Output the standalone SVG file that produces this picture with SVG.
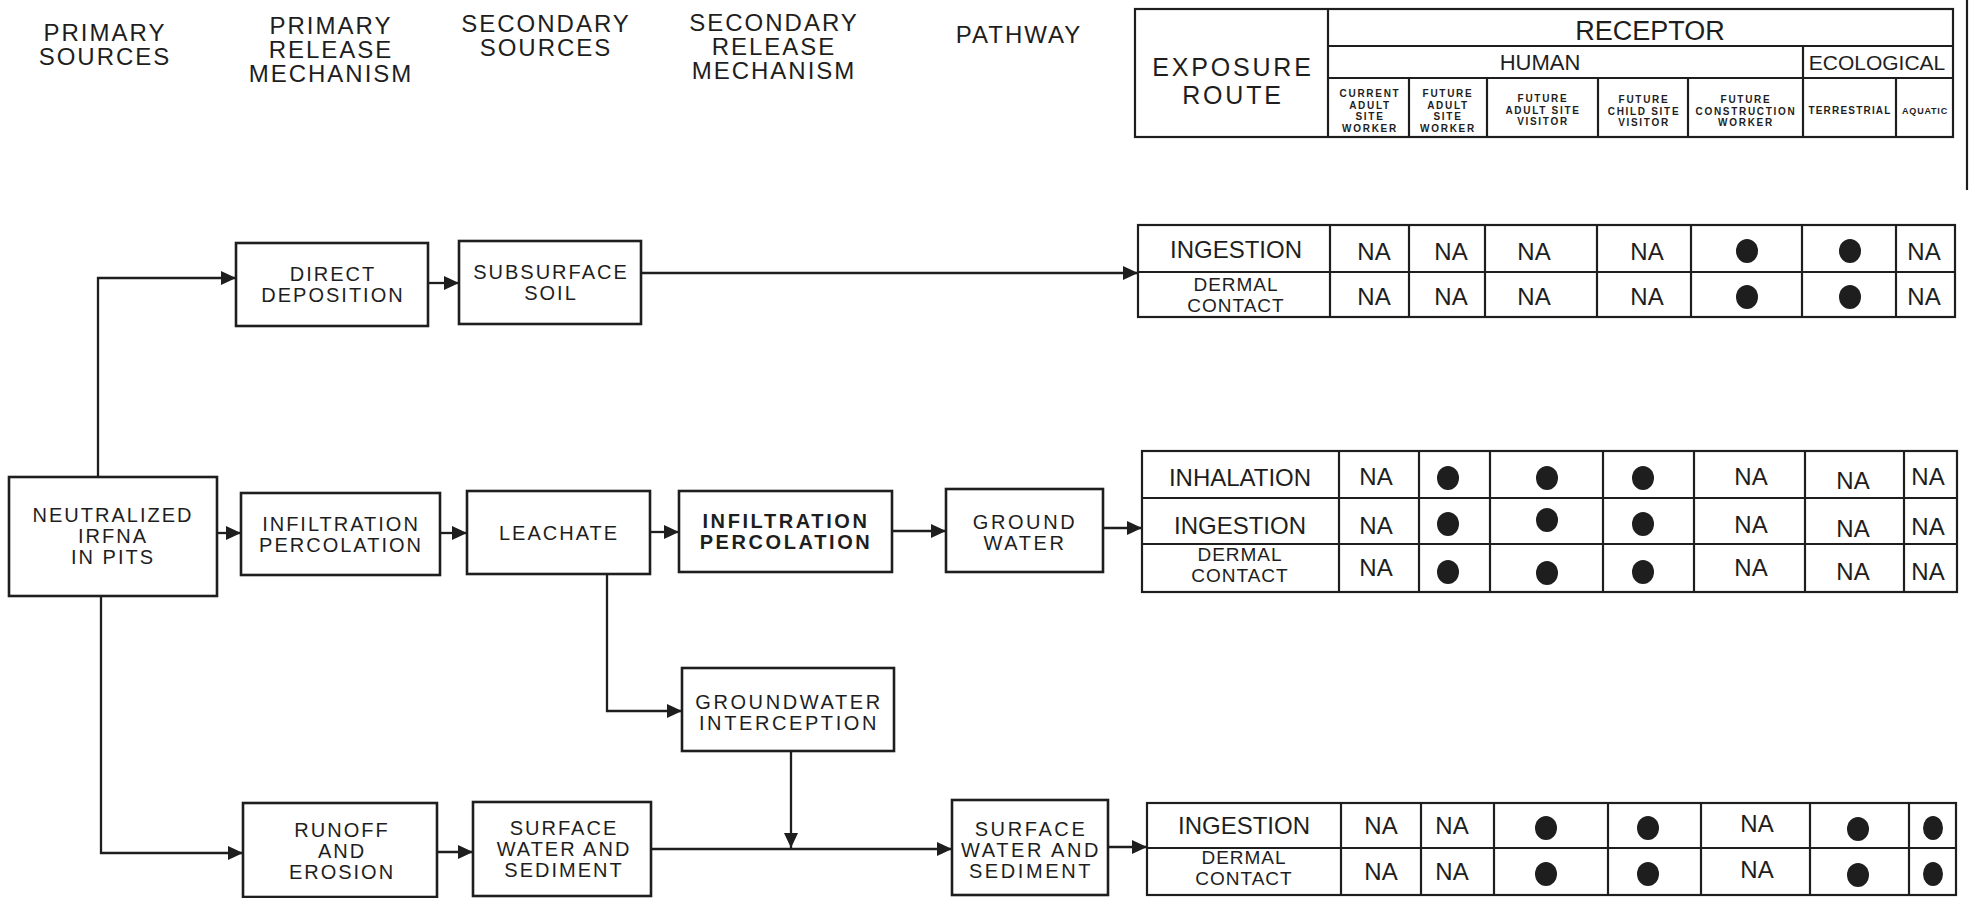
<svg xmlns="http://www.w3.org/2000/svg" width="1971" height="898" viewBox="0 0 1971 898">
<style>
  .bg { fill: #ffffff; }
  .box { fill: #ffffff; stroke: #1e1e1e; stroke-width: 2.6; }
  .grid { fill: none; stroke: #1e1e1e; stroke-width: 2.2; }
  .conn { fill: none; stroke: #1e1e1e; stroke-width: 2.3; }
  .t { font-family: "Liberation Sans", Arial, sans-serif; fill: #1e1e1e; text-anchor: middle; }
  .hd { font-size: 24px; letter-spacing: 2px; }
  .bx { font-size: 20px; letter-spacing: 2px; }
  .bw { font-size: 20px; letter-spacing: 2.6px; }
  .bb { font-size: 20px; font-weight: bold; letter-spacing: 2.6px; }
  .tb { font-size: 24px; }
  .tl { font-size: 19px; letter-spacing: 1px; }
  .sm { font-size: 10px; font-weight: bold; letter-spacing: 1.7px; }
  .dot { fill: #1e1e1e; }
</style>
<defs>
  <marker id="arr" markerUnits="userSpaceOnUse" markerWidth="16" markerHeight="14" refX="15" refY="7" orient="auto">
    <path d="M0,0 L15,7 L0,14 Z" fill="#1e1e1e"/>
  </marker>
</defs>
<rect class="bg" x="0" y="0" width="1971" height="898"/>

<!-- column headings -->
<g id="headings">
  <text class="t hd" x="105" y="41">PRIMARY</text>
  <text class="t hd" x="105" y="65">SOURCES</text>
  <text class="t hd" x="331" y="34">PRIMARY</text>
  <text class="t hd" x="331" y="58">RELEASE</text>
  <text class="t hd" x="331" y="82">MECHANISM</text>
  <text class="t hd" x="546" y="32">SECONDARY</text>
  <text class="t hd" x="546" y="56">SOURCES</text>
  <text class="t hd" x="774" y="31">SECONDARY</text>
  <text class="t hd" x="774" y="55">RELEASE</text>
  <text class="t hd" x="774" y="79">MECHANISM</text>
  <text class="t hd" x="1019" y="43">PATHWAY</text>
</g>

<!-- receptor header table -->
<g id="receptor-header">
  <rect class="grid" x="1135" y="9" width="818" height="128"/>
  <line class="grid" x1="1328" y1="9" x2="1328" y2="137"/>
  <line class="grid" x1="1328" y1="46" x2="1953" y2="46"/>
  <line class="grid" x1="1328" y1="78" x2="1953" y2="78"/>
  <line class="grid" x1="1803" y1="46" x2="1803" y2="137"/>
  <line class="grid" x1="1409" y1="78" x2="1409" y2="137"/>
  <line class="grid" x1="1487" y1="78" x2="1487" y2="137"/>
  <line class="grid" x1="1598" y1="78" x2="1598" y2="137"/>
  <line class="grid" x1="1688" y1="78" x2="1688" y2="137"/>
  <line class="grid" x1="1896" y1="78" x2="1896" y2="137"/>
  <text class="t" style="font-size:25px;letter-spacing:2.8px" x="1233" y="76">EXPOSURE</text>
  <text class="t" style="font-size:25px;letter-spacing:2.8px" x="1233" y="104">ROUTE</text>
  <text class="t" style="font-size:27px" x="1650" y="40">RECEPTOR</text>
  <text class="t" style="font-size:22px" x="1540" y="70">HUMAN</text>
  <text class="t" style="font-size:21px" x="1877" y="70">ECOLOGICAL</text>
  <text class="t sm" x="1370" y="97">CURRENT</text>
  <text class="t sm" x="1370" y="108.5">ADULT</text>
  <text class="t sm" x="1370" y="120">SITE</text>
  <text class="t sm" x="1370" y="131.5">WORKER</text>
  <text class="t sm" x="1448" y="97">FUTURE</text>
  <text class="t sm" x="1448" y="108.5">ADULT</text>
  <text class="t sm" x="1448" y="120">SITE</text>
  <text class="t sm" x="1448" y="131.5">WORKER</text>
  <text class="t sm" x="1543" y="102">FUTURE</text>
  <text class="t sm" x="1543" y="113.5">ADULT SITE</text>
  <text class="t sm" x="1543" y="125">VISITOR</text>
  <text class="t sm" x="1644" y="103">FUTURE</text>
  <text class="t sm" x="1644" y="114.5">CHILD SITE</text>
  <text class="t sm" x="1644" y="126">VISITOR</text>
  <text class="t sm" x="1746" y="103">FUTURE</text>
  <text class="t sm" x="1746" y="114.5">CONSTRUCTION</text>
  <text class="t sm" x="1746" y="126">WORKER</text>
  <text class="t sm" style="letter-spacing:1.2px" x="1850" y="114">TERRESTRIAL</text>
  <text class="t sm" style="font-size:9px;letter-spacing:0.8px" x="1925" y="114">AQUATIC</text>
</g>
<line class="grid" x1="1967" y1="0" x2="1967" y2="190"/>

<!-- connectors -->
<g id="connectors">
  <path class="conn" d="M98,477 V278 H236" marker-end="url(#arr)"/>
  <path class="conn" d="M428,283 H459" marker-end="url(#arr)"/>
  <path class="conn" d="M641,273 H1138" marker-end="url(#arr)"/>
  <path class="conn" d="M217,533 H241" marker-end="url(#arr)"/>
  <path class="conn" d="M440,533 H467" marker-end="url(#arr)"/>
  <path class="conn" d="M650,532 H679" marker-end="url(#arr)"/>
  <path class="conn" d="M892,531 H946" marker-end="url(#arr)"/>
  <path class="conn" d="M1103,528 H1142" marker-end="url(#arr)"/>
  <path class="conn" d="M607,574 V711 H682" marker-end="url(#arr)"/>
  <path class="conn" d="M791,751 V848" marker-end="url(#arr)"/>
  <path class="conn" d="M101,596 V853 H243" marker-end="url(#arr)"/>
  <path class="conn" d="M437,852 H473" marker-end="url(#arr)"/>
  <path class="conn" d="M651,849 H952" marker-end="url(#arr)"/>
  <path class="conn" d="M1108,847 H1147" marker-end="url(#arr)"/>
</g>

<!-- nodes -->
<g id="neutralized-irfna">
  <rect class="box" x="9" y="477" width="208" height="119"/>
  <text class="t bx" x="113" y="522">NEUTRALIZED</text>
  <text class="t bx" x="113" y="543">IRFNA</text>
  <text class="t bx" x="113" y="564">IN PITS</text>
</g>
<g id="direct-deposition">
  <rect class="box" x="236" y="243" width="192" height="83"/>
  <text class="t bx" x="333" y="281">DIRECT</text>
  <text class="t bx" x="333" y="302">DEPOSITION</text>
</g>
<g id="subsurface-soil">
  <rect class="box" x="459" y="241" width="182" height="83"/>
  <text class="t bx" x="551" y="279">SUBSURFACE</text>
  <text class="t bx" x="551" y="300">SOIL</text>
</g>
<g id="infiltration-primary">
  <rect class="box" x="241" y="493" width="199" height="82"/>
  <text class="t bx" x="341" y="531">INFILTRATION</text>
  <text class="t bx" x="341" y="552">PERCOLATION</text>
</g>
<g id="leachate">
  <rect class="box" x="467" y="491" width="183" height="83"/>
  <text class="t bx" x="559" y="540">LEACHATE</text>
</g>
<g id="infiltration-secondary">
  <rect class="box" x="679" y="491" width="213" height="81"/>
  <text class="t bb" x="786" y="528">INFILTRATION</text>
  <text class="t bb" x="786" y="549">PERCOLATION</text>
</g>
<g id="ground-water">
  <rect class="box" x="946" y="489" width="157" height="83"/>
  <text class="t bw" x="1025" y="529">GROUND</text>
  <text class="t bw" x="1025" y="550">WATER</text>
</g>
<g id="groundwater-interception">
  <rect class="box" x="682" y="668" width="212" height="83"/>
  <text class="t bw" x="789" y="709">GROUNDWATER</text>
  <text class="t bw" x="789" y="730">INTERCEPTION</text>
</g>
<g id="runoff-erosion">
  <rect class="box" x="243" y="803" width="194" height="94"/>
  <text class="t bx" x="342" y="837">RUNOFF</text>
  <text class="t bx" x="342" y="858">AND</text>
  <text class="t bx" x="342" y="879">EROSION</text>
</g>
<g id="surface-water-secondary">
  <rect class="box" x="473" y="802" width="178" height="94"/>
  <text class="t bx" x="564" y="835">SURFACE</text>
  <text class="t bx" x="564" y="856">WATER AND</text>
  <text class="t bx" x="564" y="877">SEDIMENT</text>
</g>
<g id="surface-water-pathway">
  <rect class="box" x="952" y="800" width="156" height="95"/>
  <text class="t bw" x="1031" y="836">SURFACE</text>
  <text class="t bw" x="1031" y="857">WATER AND</text>
  <text class="t bw" x="1031" y="878">SEDIMENT</text>
</g>

<!-- exposure table 1 -->
<g id="table-subsurface-soil">
  <rect class="grid" x="1138" y="225" width="817" height="92"/>
  <line class="grid" x1="1138" y1="272" x2="1955" y2="272"/>
  <line class="grid" x1="1330" y1="225" x2="1330" y2="317"/>
  <line class="grid" x1="1409" y1="225" x2="1409" y2="317"/>
  <line class="grid" x1="1485" y1="225" x2="1485" y2="317"/>
  <line class="grid" x1="1597" y1="225" x2="1597" y2="317"/>
  <line class="grid" x1="1691" y1="225" x2="1691" y2="317"/>
  <line class="grid" x1="1802" y1="225" x2="1802" y2="317"/>
  <line class="grid" x1="1896" y1="225" x2="1896" y2="317"/>
  <text class="t tb" x="1236" y="258">INGESTION</text>
  <text class="t tl" x="1236" y="291">DERMAL</text>
  <text class="t tl" x="1236" y="312">CONTACT</text>
  <text class="t tb" x="1374" y="260">NA</text>
  <text class="t tb" x="1451" y="260">NA</text>
  <text class="t tb" x="1534" y="260">NA</text>
  <text class="t tb" x="1647" y="260">NA</text>
  <ellipse class="dot" cx="1747" cy="251" rx="11" ry="12"/>
  <ellipse class="dot" cx="1850" cy="251" rx="11" ry="12"/>
  <text class="t tb" x="1924" y="260">NA</text>
  <text class="t tb" x="1374" y="305">NA</text>
  <text class="t tb" x="1451" y="305">NA</text>
  <text class="t tb" x="1534" y="305">NA</text>
  <text class="t tb" x="1647" y="305">NA</text>
  <ellipse class="dot" cx="1747" cy="297" rx="11" ry="12"/>
  <ellipse class="dot" cx="1850" cy="297" rx="11" ry="12"/>
  <text class="t tb" x="1924" y="305">NA</text>
</g>

<!-- exposure table 2 -->
<g id="table-ground-water">
  <rect class="grid" x="1142" y="451" width="815" height="141"/>
  <line class="grid" x1="1142" y1="498" x2="1957" y2="498"/>
  <line class="grid" x1="1142" y1="544" x2="1957" y2="544"/>
  <line class="grid" x1="1339" y1="451" x2="1339" y2="592"/>
  <line class="grid" x1="1419" y1="451" x2="1419" y2="592"/>
  <line class="grid" x1="1490" y1="451" x2="1490" y2="592"/>
  <line class="grid" x1="1603" y1="451" x2="1603" y2="592"/>
  <line class="grid" x1="1694" y1="451" x2="1694" y2="592"/>
  <line class="grid" x1="1805" y1="451" x2="1805" y2="592"/>
  <line class="grid" x1="1904" y1="451" x2="1904" y2="592"/>
  <text class="t tb" x="1240" y="486">INHALATION</text>
  <text class="t tb" x="1240" y="534">INGESTION</text>
  <text class="t tl" x="1240" y="561">DERMAL</text>
  <text class="t tl" x="1240" y="582">CONTACT</text>
  <text class="t tb" x="1376" y="485">NA</text>
  <ellipse class="dot" cx="1448" cy="478" rx="11" ry="12"/>
  <ellipse class="dot" cx="1547" cy="478" rx="11" ry="12"/>
  <ellipse class="dot" cx="1643" cy="478" rx="11" ry="12"/>
  <text class="t tb" x="1751" y="485">NA</text>
  <text class="t tb" x="1853" y="489">NA</text>
  <text class="t tb" x="1928" y="485">NA</text>
  <text class="t tb" x="1376" y="534">NA</text>
  <ellipse class="dot" cx="1448" cy="524" rx="11" ry="12"/>
  <ellipse class="dot" cx="1547" cy="520" rx="11" ry="12"/>
  <ellipse class="dot" cx="1643" cy="524" rx="11" ry="12"/>
  <text class="t tb" x="1751" y="533">NA</text>
  <text class="t tb" x="1853" y="537">NA</text>
  <text class="t tb" x="1928" y="535">NA</text>
  <text class="t tb" x="1376" y="576">NA</text>
  <ellipse class="dot" cx="1448" cy="572" rx="11" ry="12"/>
  <ellipse class="dot" cx="1547" cy="573" rx="11" ry="12"/>
  <ellipse class="dot" cx="1643" cy="572" rx="11" ry="12"/>
  <text class="t tb" x="1751" y="576">NA</text>
  <text class="t tb" x="1853" y="580">NA</text>
  <text class="t tb" x="1928" y="580">NA</text>
</g>

<!-- exposure table 3 -->
<g id="table-surface-water">
  <rect class="grid" x="1147" y="803" width="809" height="92"/>
  <line class="grid" x1="1147" y1="848" x2="1956" y2="848"/>
  <line class="grid" x1="1341" y1="803" x2="1341" y2="895"/>
  <line class="grid" x1="1421" y1="803" x2="1421" y2="895"/>
  <line class="grid" x1="1494" y1="803" x2="1494" y2="895"/>
  <line class="grid" x1="1608" y1="803" x2="1608" y2="895"/>
  <line class="grid" x1="1701" y1="803" x2="1701" y2="895"/>
  <line class="grid" x1="1810" y1="803" x2="1810" y2="895"/>
  <line class="grid" x1="1909" y1="803" x2="1909" y2="895"/>
  <text class="t tb" x="1244" y="834">INGESTION</text>
  <text class="t tl" x="1244" y="864">DERMAL</text>
  <text class="t tl" x="1244" y="885">CONTACT</text>
  <text class="t tb" x="1381" y="834">NA</text>
  <text class="t tb" x="1452" y="834">NA</text>
  <ellipse class="dot" cx="1546" cy="828" rx="11" ry="12"/>
  <ellipse class="dot" cx="1648" cy="828" rx="11" ry="12"/>
  <text class="t tb" x="1757" y="832">NA</text>
  <ellipse class="dot" cx="1858" cy="829" rx="11" ry="12"/>
  <ellipse class="dot" cx="1933" cy="828" rx="10" ry="12"/>
  <text class="t tb" x="1381" y="880">NA</text>
  <text class="t tb" x="1452" y="880">NA</text>
  <ellipse class="dot" cx="1546" cy="874" rx="11" ry="12"/>
  <ellipse class="dot" cx="1648" cy="874" rx="11" ry="12"/>
  <text class="t tb" x="1757" y="878">NA</text>
  <ellipse class="dot" cx="1858" cy="875" rx="11" ry="12"/>
  <ellipse class="dot" cx="1933" cy="874" rx="10" ry="12"/>
</g>
</svg>
